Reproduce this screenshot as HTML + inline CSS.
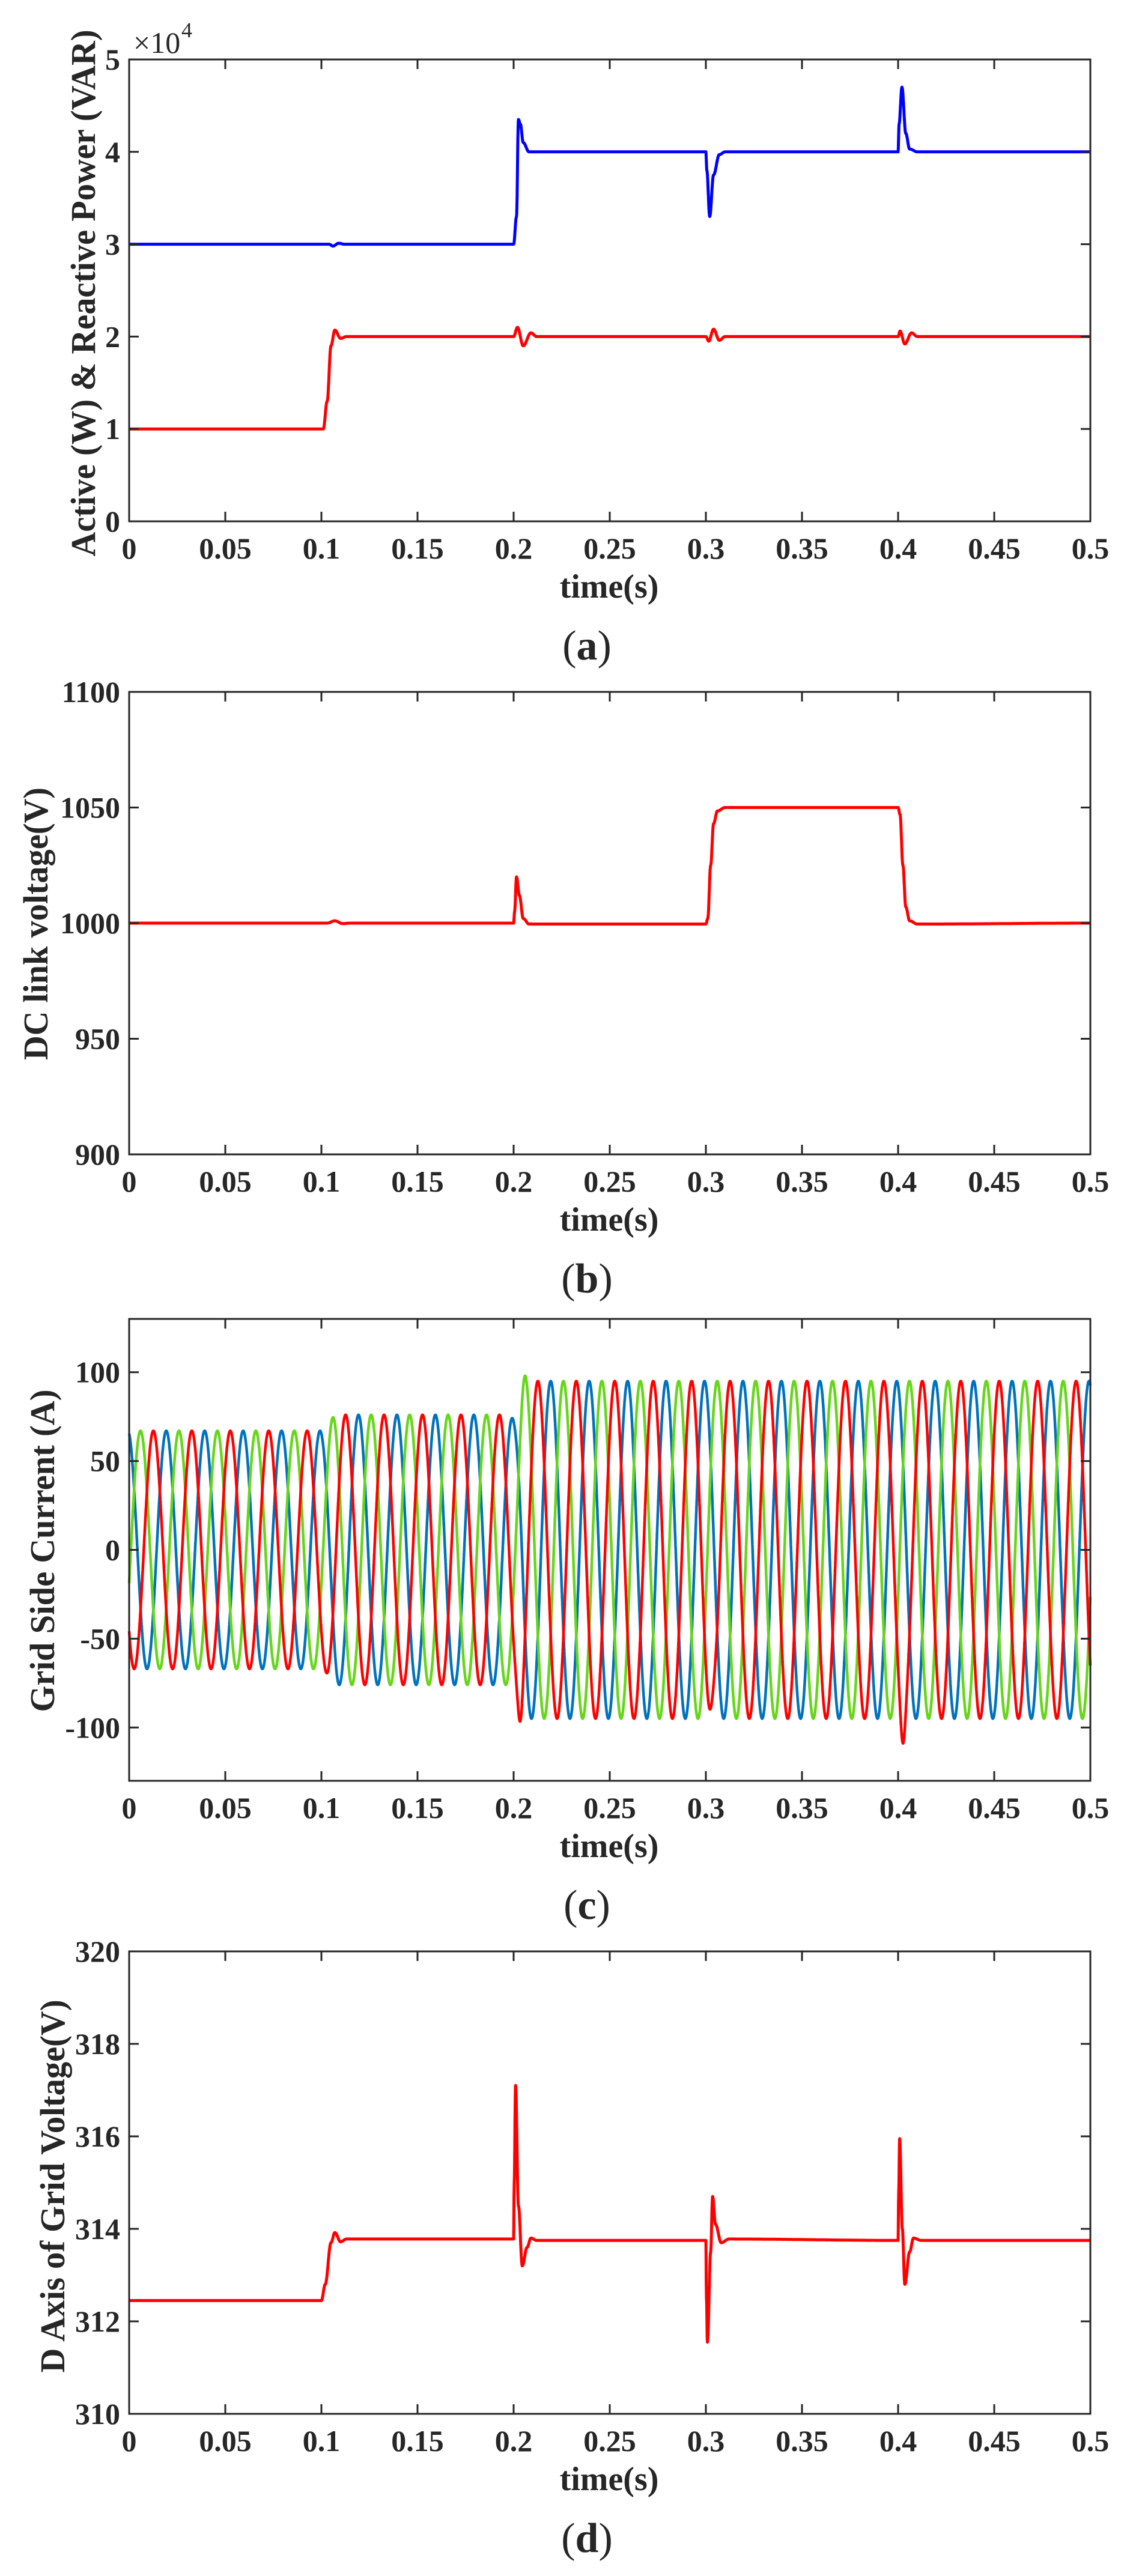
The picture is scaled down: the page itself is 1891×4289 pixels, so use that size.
<!DOCTYPE html>
<html><head><meta charset="utf-8"><style>
html,body{margin:0;padding:0;background:#fff;}
svg{display:block;}
text{font-family:"Liberation Serif","Times New Roman",serif;fill:#262626;}
</style></head><body>
<svg id="s" xmlns="http://www.w3.org/2000/svg" width="1891" height="4289" viewBox="0 0 1891 4289">
<rect width="1891" height="4289" fill="#fff"/>
<g id="g"></g>
<text x="222" y="88" font-size="50">×10</text>
<text x="302" y="62" font-size="36">4</text>
<text transform="translate(158,488) rotate(-90)" text-anchor="middle" font-size="58" font-weight="bold" textLength="877" lengthAdjust="spacingAndGlyphs" fill="#000">Active (W) &amp; Reactive Power (VAR)</text>
<text transform="translate(79,1538) rotate(-90)" text-anchor="middle" font-size="58" font-weight="bold" textLength="454" lengthAdjust="spacingAndGlyphs" fill="#000">DC link voltage(V)</text>
<text transform="translate(90,2582) rotate(-90)" text-anchor="middle" font-size="58" font-weight="bold" textLength="537" lengthAdjust="spacingAndGlyphs" fill="#000">Grid Side Current (A)</text>
<text transform="translate(107,3640) rotate(-90)" text-anchor="middle" font-size="58" font-weight="bold" textLength="621" lengthAdjust="spacingAndGlyphs" fill="#000">D Axis of Grid Voltage(V)</text>
</svg>
<script>
var NS="http://www.w3.org/2000/svg",G=document.getElementById('g');
function el(t,a,txt){var e=document.createElementNS(NS,t);for(var k in a)e.setAttribute(k,a[k]);if(txt!=null)e.textContent=txt;G.appendChild(e);return e;}
var L=215,R=1815;
function X(t){return L+t/0.5*(R-L);}
var panels=[
 {top:99,bot:868,min:0,max:5,ticks:[0,1,2,3,4,5],lab:function(v){return ''+v;},off:0,letter:'a'},
 {top:1152,bot:1922,min:900,max:1100,ticks:[900,950,1000,1050,1100],lab:function(v){return ''+v;},off:1054,letter:'b'},
 {top:2196,bot:2965,min:-130,max:130,ticks:[-100,-50,0,50,100],lab:function(v){return ''+v;},off:2097,letter:'c'},
 {top:3249,bot:4019,min:310,max:320,ticks:[310,312,314,316,318,320],lab:function(v){return ''+v;},off:3151,letter:'d'}
];
function Yf(p){return function(v){return p.bot-(v-p.min)/(p.max-p.min)*(p.bot-p.top);};}
function interp(k,t){for(var i=1;i<k.length;i++){if(t<=k[i][0]){var a=k[i-1],b=k[i],f=(t-a[0])/(b[0]-a[0]);f=(1-Math.cos(Math.PI*f))/2;return a[1]+(b[1]-a[1])*f;}}return k[k.length-1][1];}
function curve(p,k,col,w){var Y=Yf(p),d='';for(var i=0;i<=5000;i++){var t=i*0.0001;d+=(i?'L':'M')+X(t).toFixed(1)+' '+Y(interp(k,t)).toFixed(1);}el('path',{d:d,fill:'none',stroke:col,'stroke-width':w,'stroke-linejoin':'round'});}
function fcurve(p,f,col,w){var Y=Yf(p),d='';for(var i=0;i<=10000;i++){var t=i*0.00005;d+=(i?'L':'M')+X(t).toFixed(1)+' '+Y(f(t)).toFixed(1);}el('path',{d:d,fill:'none',stroke:col,'stroke-width':w,'stroke-linejoin':'round'});}
var pa=panels[0];
curve(pa,[[0,3],[0.104,3],[0.106,2.98],[0.109,3.01],[0.112,3],[0.2,3],[0.2015,3.3],[0.2025,4.35],[0.2035,4.3],[0.205,4.1],[0.208,4.0],[0.3,4.0],[0.3005,3.8],[0.302,3.3],[0.304,3.75],[0.307,3.97],[0.31,4.0],[0.4,4.0],[0.4005,4.3],[0.402,4.7],[0.404,4.2],[0.406,4.03],[0.41,4.0],[0.5,4.0]],'#0000ff',5);
curve(pa,[[0,1],[0.101,1],[0.103,1.3],[0.105,1.9],[0.107,2.07],[0.110,1.98],[0.113,2.0],[0.2,2.0],[0.202,2.1],[0.205,1.9],[0.209,2.04],[0.212,2.0],[0.3,2.0],[0.3015,1.95],[0.304,2.08],[0.307,1.96],[0.31,2.0],[0.4,2.0],[0.401,2.06],[0.4035,1.92],[0.407,2.04],[0.41,2.0],[0.5,2.0]],'#ff0000',5);
var pb=panels[1];
curve(pb,[[0,1000],[0.103,1000],[0.107,1001],[0.111,999.8],[0.115,1000],[0.2,1000],[0.2005,1005],[0.2015,1020],[0.203,1012],[0.205,1002],[0.208,999.6],[0.3,999.6],[0.301,1002],[0.3025,1025],[0.304,1043],[0.306,1048.5],[0.31,1050],[0.4,1050],[0.401,1047],[0.4025,1025],[0.404,1007],[0.406,1001],[0.41,999.6],[0.5,1000]],'#ff0000',5);
var pd=panels[3];
curve(pd,[[0,312.45],[0.1,312.45],[0.102,312.8],[0.105,313.7],[0.107,313.92],[0.11,313.72],[0.113,313.78],[0.2,313.78],[0.2003,315],[0.201,317.1],[0.2025,314.5],[0.2045,313.2],[0.207,313.6],[0.209,313.8],[0.212,313.75],[0.3,313.75],[0.3003,312.5],[0.3008,311.55],[0.3025,313.5],[0.3035,314.7],[0.305,314.1],[0.308,313.7],[0.312,313.78],[0.4,313.75],[0.4003,314.8],[0.4008,315.95],[0.4022,314],[0.4035,312.8],[0.406,313.5],[0.408,313.8],[0.412,313.75],[0.5,313.75]],'#ff0000',5);
var pc=panels[2];
function ss(x){return x<0?0:x>1?1:(3*x*x-2*x*x*x);}
function A(t){return 67+9*ss((t-0.1)/0.008)+19*ss((t-0.2)/0.006);}
function gb(t,c,w){return Math.exp(-Math.pow((t-c)/w,2));}
var w=2*Math.PI*50;
fcurve(pc,function(t){return A(t)*Math.cos(w*(t-0.0193))-2*gb(t,0.2,0.003);},'#0072bd',4.5);
fcurve(pc,function(t){return A(t)*Math.cos(w*(t-0.0059))+3*gb(t,0.206,0.002);},'#66d61a',4.5);
fcurve(pc,function(t){return A(t)*Math.cos(w*(t-0.0126))-12*gb(t,0.2035,0.0015)-14*gb(t,0.4025,0.0015)+10*gb(t,0.304,0.002);},'#ff0000',4.5);
var xt=[0,0.05,0.1,0.15,0.2,0.25,0.3,0.35,0.4,0.45,0.5],xl=['0','0.05','0.1','0.15','0.2','0.25','0.3','0.35','0.4','0.45','0.5'];
panels.forEach(function(p){
 var Y=Yf(p);
 el('rect',{x:L,y:p.top,width:R-L,height:p.bot-p.top,fill:'none',stroke:'#262626','stroke-width':3});
 xt.forEach(function(t,i){var x=X(t);
  if(i>0&&i<10){el('line',{x1:x,y1:p.bot,x2:x,y2:p.bot-16,stroke:'#262626','stroke-width':3});el('line',{x1:x,y1:p.top,x2:x,y2:p.top+16,stroke:'#262626','stroke-width':3});}
  el('text',{x:x,y:930+p.off,'text-anchor':'middle','font-size':50,'font-weight':'bold'},xl[i]);});
 p.ticks.forEach(function(v){var y=Y(v);
  el('line',{x1:L,y1:y,x2:L+16,y2:y,stroke:'#262626','stroke-width':3});el('line',{x1:R,y1:y,x2:R-16,y2:y,stroke:'#262626','stroke-width':3});
  el('text',{x:200,y:y+17,'text-anchor':'end','font-size':50,'font-weight':'bold'},p.lab(v));});
 el('text',{x:1014,y:995+p.off,'text-anchor':'middle','font-size':56,'font-weight':'bold',fill:'#000'},'time(s)');
 var t=el('text',{x:977,y:1098+p.off,'text-anchor':'middle','font-size':70,fill:'#000'});
 t.innerHTML='(<tspan font-weight="bold">'+p.letter+'</tspan>)';
});
</script>
</body></html>
